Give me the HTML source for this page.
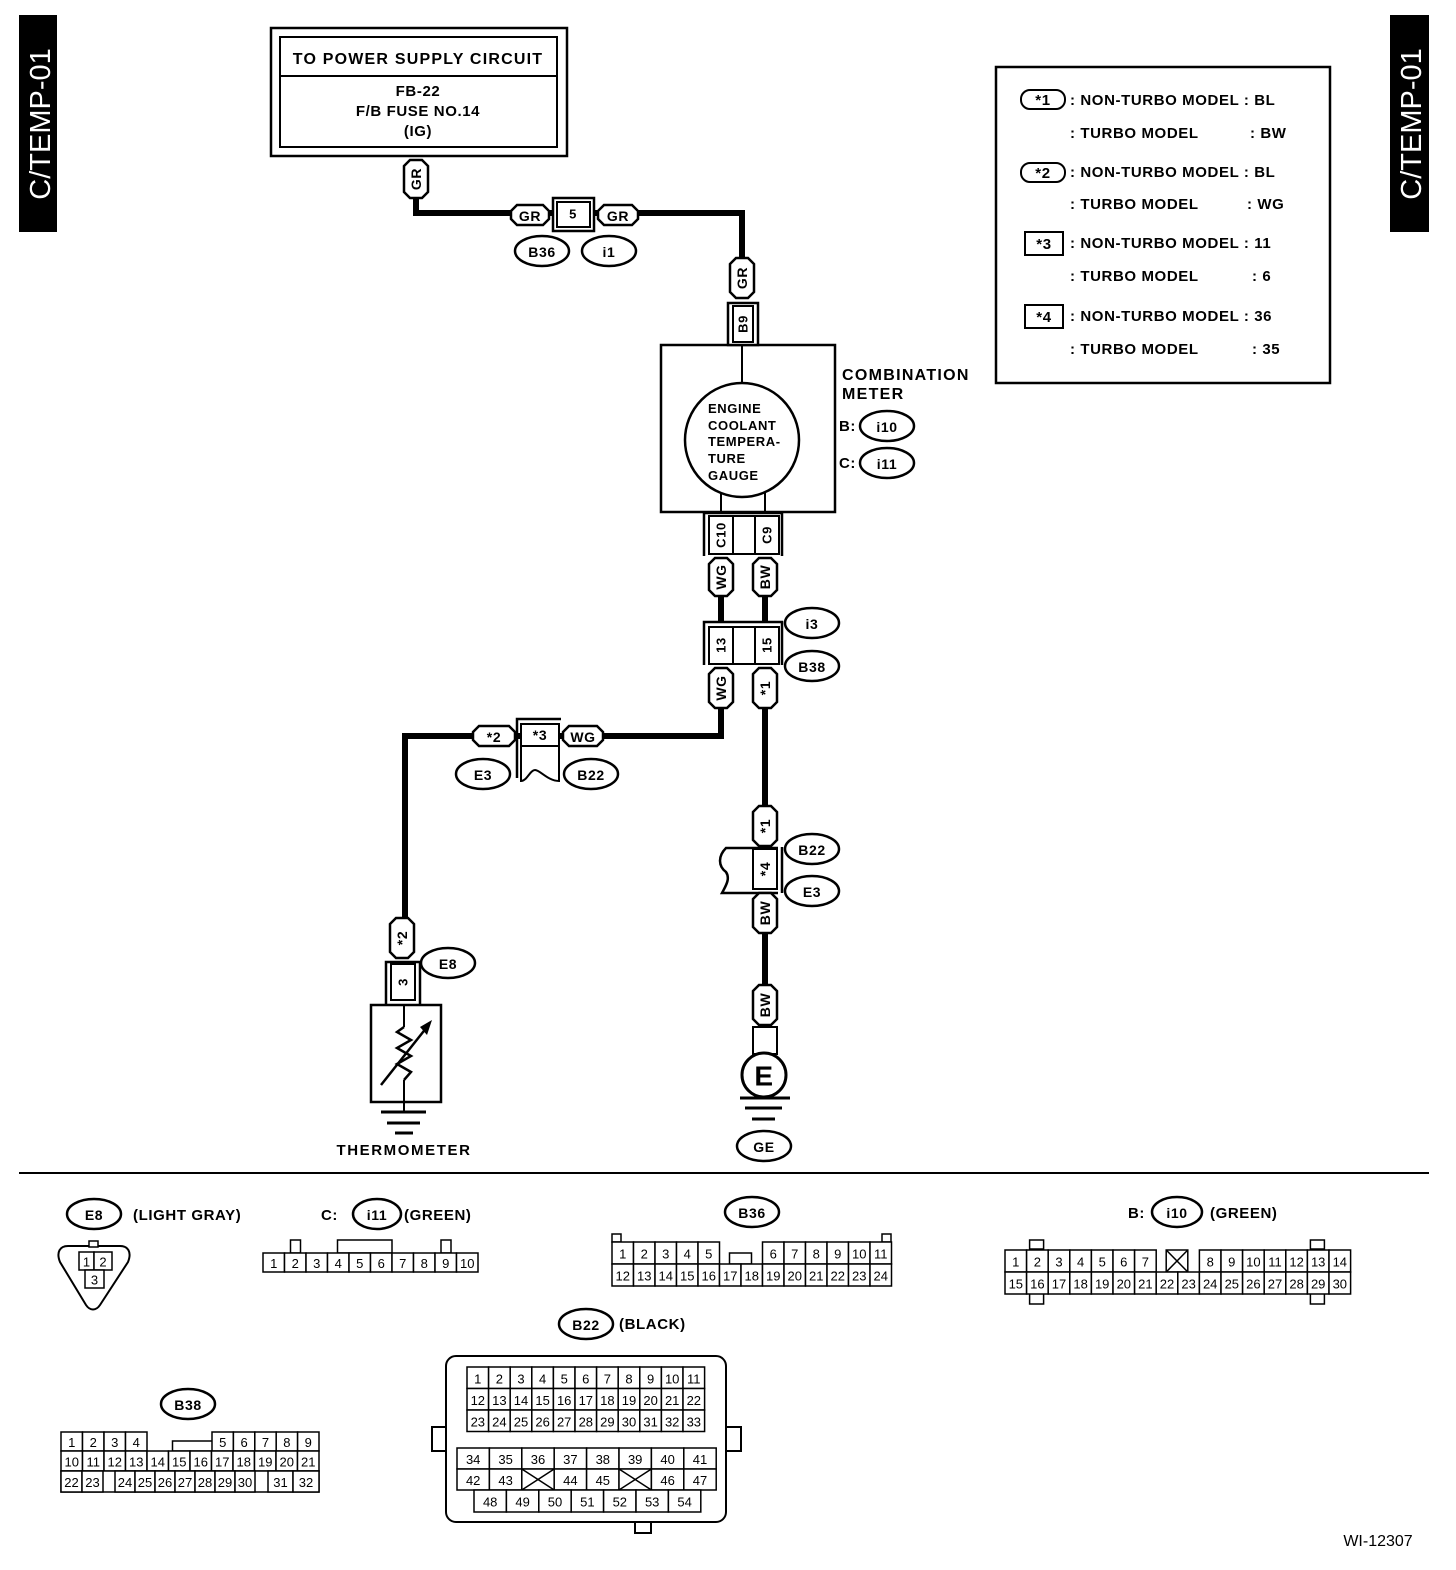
<!DOCTYPE html>
<html><head><meta charset="utf-8"><style>
html,body{margin:0;padding:0;background:#fff;}
svg{display:block;}
text{font-family:"Liberation Sans",Arial,sans-serif;font-weight:bold;fill:#000;letter-spacing:0.6px;}
</style></head><body>
<svg id="s" width="1456" height="1570" viewBox="0 0 1456 1570" xmlns="http://www.w3.org/2000/svg">
<rect x="0" y="0" width="1456" height="1570" fill="#fff"/>
<rect x="19" y="15" width="38" height="217" fill="#000"/>
<text x="0" y="0" transform="translate(50,124) rotate(-90)" text-anchor="middle" font-size="29" style="fill:#fff;font-weight:normal;letter-spacing:0">C/TEMP-01</text>
<rect x="1390" y="15" width="39" height="217" fill="#000"/>
<text x="0" y="0" transform="translate(1421,124) rotate(-90)" text-anchor="middle" font-size="29" style="fill:#fff;font-weight:normal;letter-spacing:0">C/TEMP-01</text>

<rect x="271" y="28" width="296" height="128" fill="none" stroke="#000" stroke-width="2.5"/>
<rect x="280" y="37" width="277" height="110" fill="none" stroke="#000" stroke-width="2"/>
<line x1="280" y1="76" x2="557" y2="76" stroke="#000" stroke-width="2"/>
<text x="418" y="64" text-anchor="middle" font-size="16" style="letter-spacing:1.2px">TO POWER SUPPLY CIRCUIT</text>
<text x="418" y="96" text-anchor="middle" font-size="15">FB-22</text>
<text x="418" y="116" text-anchor="middle" font-size="15">F/B FUSE NO.14</text>
<text x="418" y="136" text-anchor="middle" font-size="15">(IG)</text>

<g stroke="#000" stroke-width="6" fill="none">
<polyline points="416,198 416,213 742,213 742,262"/>
<line x1="721" y1="596" x2="721" y2="622"/>
<line x1="765" y1="596" x2="765" y2="622"/>
<polyline points="721,706 721,736 405,736 405,920"/>
<line x1="765" y1="706" x2="765" y2="808"/>
<line x1="765" y1="932" x2="765" y2="987"/>
</g>

<rect x="996" y="67" width="334" height="316" fill="none" stroke="#000" stroke-width="2.5"/>
<g font-size="15">
<rect x="1021" y="90" width="44" height="19" rx="9" fill="#fff" stroke="#000" stroke-width="2"/><text x="1043" y="105" text-anchor="middle">*1</text>
<text x="1070" y="105">: NON-TURBO MODEL : BL</text>
<text x="1070" y="138">: TURBO MODEL</text><text x="1250" y="138">: BW</text>
<rect x="1021" y="163" width="44" height="19" rx="9" fill="#fff" stroke="#000" stroke-width="2"/><text x="1043" y="178" text-anchor="middle">*2</text>
<text x="1070" y="177">: NON-TURBO MODEL : BL</text>
<text x="1070" y="209">: TURBO MODEL</text><text x="1247" y="209">: WG</text>
<rect x="1025" y="232" width="38" height="23" fill="#fff" stroke="#000" stroke-width="2"/><text x="1044" y="249" text-anchor="middle">*3</text>
<text x="1070" y="248">: NON-TURBO MODEL : 11</text>
<text x="1070" y="281">: TURBO MODEL</text><text x="1252" y="281">: 6</text>
<rect x="1025" y="305" width="38" height="23" fill="#fff" stroke="#000" stroke-width="2"/><text x="1044" y="322" text-anchor="middle">*4</text>
<text x="1070" y="321">: NON-TURBO MODEL : 36</text>
<text x="1070" y="354">: TURBO MODEL</text><text x="1252" y="354">: 35</text>
</g>

<rect x="661" y="345" width="174" height="167" fill="#fff" stroke="#000" stroke-width="2.5"/>
<line x1="742" y1="345" x2="742" y2="383" stroke="#000" stroke-width="2"/>
<line x1="721" y1="490" x2="721" y2="512" stroke="#000" stroke-width="2"/>
<line x1="765" y1="490" x2="765" y2="512" stroke="#000" stroke-width="2"/>
<circle cx="742" cy="440" r="57" fill="#fff" stroke="#000" stroke-width="2.5"/>
<g font-size="13" style="letter-spacing:1px"><text x="708" y="413">ENGINE</text><text x="708" y="430">COOLANT</text><text x="708" y="446">TEMPERA-</text><text x="708" y="463">TURE</text><text x="708" y="480">GAUGE</text></g>
<text x="842" y="380" font-size="16" style="letter-spacing:1.3px">COMBINATION</text>
<text x="842" y="399" font-size="16" style="letter-spacing:1.3px">METER</text>
<text x="839" y="431" font-size="15">B:</text>
<text x="839" y="468" font-size="15">C:</text>

<g id="dyn"></g>

<line x1="19" y1="1173" x2="1429" y2="1173" stroke="#000" stroke-width="2"/>

<text x="404" y="1155" text-anchor="middle" font-size="15" style="letter-spacing:1.6px">THERMOMETER</text>
<text x="1378" y="1546" text-anchor="middle" font-size="16" style="font-weight:normal;letter-spacing:0">WI-12307</text>

<g font-size="15" style="letter-spacing:1.2px">
<text x="133" y="1220">(LIGHT GRAY)</text>
<text x="321" y="1220">C:</text><text x="404" y="1220">(GREEN)</text>
<text x="1128" y="1218">B:</text><text x="1210" y="1218">(GREEN)</text>
<text x="619" y="1329">(BLACK)</text>
</g>
</svg>
<script>
var NS="http://www.w3.org/2000/svg",G=document.getElementById('dyn');
function el(t,a,txt){var e=document.createElementNS(NS,t);for(var k in a)e.setAttribute(k,a[k]);if(txt!=null)e.textContent=txt;G.appendChild(e);return e;}
function rect(x,y,w,h,sw,extra){var a={x:x,y:y,width:w,height:h,fill:'#fff',stroke:'#000','stroke-width':sw||2};for(var k in extra)a[k]=extra[k];return el('rect',a);}
function line(x1,y1,x2,y2,sw){return el('line',{x1:x1,y1:y1,x2:x2,y2:y2,stroke:'#000','stroke-width':sw||2});}
function txt(x,y,s,fs,rot,extra){var a={x:x,y:y,'text-anchor':'middle','font-size':fs||14,'dominant-baseline':'central'};if(rot){a.transform='rotate(-90 '+x+' '+y+')';}for(var k in extra)a[k]=extra[k];return el('text',a,s);}
function oval(cx,cy,s,rx,ry){el('ellipse',{cx:cx,cy:cy,rx:rx||27,ry:ry||15,fill:'#fff',stroke:'#000','stroke-width':2.5});txt(cx,cy+1,s,14);}
function vtag(cx,y1,y2,s){var w=24,c=6;var x=cx-w/2;el('polygon',{points:[x+c,y1,x+w-c,y1,x+w,y1+c,x+w,y2-c,x+w-c,y2,x+c,y2,x,y2-c,x,y1+c].join(' '),fill:'#fff',stroke:'#000','stroke-width':2.5});txt(cx,(y1+y2)/2,s,14,true);}
function htag(x1,x2,cy,s){var h=20,c=6;var y=cy-h/2;el('polygon',{points:[x1+c,y,x2-c,y,x2,y+c,x2,y+h-c,x2-c,y+h,x1+c,y+h,x1,y+h-c,x1,y+c].join(' '),fill:'#fff',stroke:'#000','stroke-width':2.5});txt((x1+x2)/2,cy+1,s,14);}

vtag(416,160,198,'GR');
htag(511,549,215,'GR');
rect(553,198,41,33,2.5);rect(557,202,33,25,2);txt(573,214,'5',13);
htag(598,638,215,'GR');
oval(542,251,'B36');oval(609,251,'i1');
vtag(742,258,298,'GR');
rect(728,303,30,42,2.5);rect(733,306,20,36,2);txt(743,324,'B9',13,true);
oval(887,426,'i10');oval(887,463,'i11');
el('polyline',{points:'704,556 704,513 782,513 782,556',fill:'none',stroke:'#000','stroke-width':2.5});
rect(709,516,70,38,2);line(733,516,733,554);line(755,516,755,554);
txt(721,535,'C10',13,true);txt(767,535,'C9',13,true);
vtag(721,558,596,'WG');vtag(765,558,596,'BW');
el('polyline',{points:'704,665 704,622 782,622 782,665',fill:'none',stroke:'#000','stroke-width':2.5});
rect(709,627,70,37,2);line(733,627,733,664);line(755,627,755,664);
txt(721,645,'13',13,true);txt(767,645,'15',13,true);
oval(812,623,'i3');oval(812,666,'B38');
vtag(721,668,708,'WG');vtag(765,668,708,'*1');
htag(473,515,736,'*2');
el('polyline',{points:'517,778 517,719 561,719',fill:'none',stroke:'#000','stroke-width':2.5});
el('path',{d:'M521,724 L559,724 L559,781 C548,781 540,770 535,770 C530,770 527,781 521,781 Z',fill:'#fff',stroke:'#000','stroke-width':2});
line(521,746,559,746);txt(540,735,'*3',14);
htag(563,603,736,'WG');
oval(483,774,'E3');oval(591,774,'B22');
vtag(765,806,846,'*1');
el('path',{d:'M778,848 L726,848 C718,856 718,866 726,872 C730,878 727,884 722,893 L778,893',fill:'none',stroke:'#000','stroke-width':2.5});
rect(753,849,24,40,2);txt(765,869,'*4',14,true);
el('polyline',{points:'782,847 782,893',fill:'none',stroke:'#000','stroke-width':2.5});
oval(812,849,'B22');oval(812,891,'E3');
vtag(765,893,933,'BW');vtag(765,985,1025,'BW');
rect(753,1027,24,27,2);
el('circle',{cx:764,cy:1075,r:22,fill:'#fff',stroke:'#000','stroke-width':3});
txt(764,1076,'E',28);
line(740,1098,790,1098,3);line(745,1108,782,1108,3);line(752,1119,775,1119,3);
oval(764,1146,'GE');
vtag(402,918,958,'*2');oval(448,963,'E8');
el('polyline',{points:'386,1004 386,962 420,962 420,1004',fill:'none',stroke:'#000','stroke-width':2.5});
rect(391,964,24,36,2);txt(403,982,'3',13,true);
rect(371,1005,70,97,2.5);
line(404,1005,404,1027);line(404,1080,404,1102);
el('polyline',{points:'404,1027 397,1032 411,1040 397,1048 411,1056 397,1064 411,1072 404,1080',fill:'none',stroke:'#000','stroke-width':2.5});
line(381,1085,427,1027,2.5);el('polygon',{points:'432,1020 420,1027 427,1035',fill:'#000'});
line(404,1102,404,1112);line(381,1112,426,1112,3);line(387,1123,420,1123,3);line(395,1133,413,1133,3);

function cell(x,y,w,h,s,fs){rect(x,y,w,h,1.5);if(s!=null)txt(x+w/2,y+h/2+1,s,fs||13,false,{style:'font-weight:normal;letter-spacing:0'});}
function xcell(x,y,w,h){rect(x,y,w,h,1.5);line(x,y,x+w,y+h,1.5);line(x+w,y,x,y+h,1.5);}
oval(94,1214,'E8');
el('path',{d:'M68,1246 L120,1246 C128,1246 132,1252 128,1262 L100,1305 C96,1311 90,1311 86,1305 L60,1262 C56,1252 60,1246 68,1246 Z',fill:'#fff',stroke:'#000','stroke-width':2});
rect(89,1241,9,6,1.5);
cell(79,1252,15,18,'1');cell(94,1252,18,18,'2');cell(85,1270,19,18,'3');
oval(377,1214,'i11',24);
var w=21.5,x0=263;
rect(x0+w+6,1240,10,13,1.5);rect(x0+3*w+10,1240,3*w+10-20,13,1.5);rect(x0+8*w+6,1240,10,13,1.5);
for(var i=0;i<10;i++)cell(x0+i*w,1253,w,19,String(i+1));
oval(752,1212,'B36');
w=21.5;x0=612;
rect(x0,1234,9,8,1.5);rect(x0+12*w+12,1234,9,8,1.5);
for(var i=0;i<5;i++)cell(x0+i*w,1242,w,22,String(i+1));
rect(x0+5*w+10,1253,22,11,1.5);
for(var i=0;i<6;i++)cell(x0+(7+i)*w,1242,w,22,String(6+i));
for(var i=0;i<13;i++)cell(x0+i*w,1264,w,22,String(12+i));
oval(1177,1212,'i10',25);
w=21.6;x0=1005;
rect(x0+w+3,1240,14,9,1.5);rect(x0+14*w+3,1240,14,9,1.5);
rect(x0+w+3,1293,14,11,1.5);rect(x0+14*w+3,1293,14,11,1.5);
for(var i=0;i<7;i++)cell(x0+i*w,1250,w,22,String(i+1));
xcell(x0+7*w+10,1250,w,22);
for(var i=0;i<7;i++)cell(x0+(9+i)*w,1250,w,22,String(8+i));
for(var i=0;i<16;i++)cell(x0+i*w,1272,w,22,String(15+i));
oval(188,1404,'B38');
w=21.5;x0=61;
for(var i=0;i<4;i++)cell(x0+i*w,1432,w,19,String(i+1));
rect(x0+5*w+4,1441,44,10,1.5);
for(var i=0;i<5;i++)cell(212+i*21.4,1432,21.4,19,String(5+i));
for(var i=0;i<12;i++)cell(x0+i*w,1451,w,20,String(10+i));
rect(61,1471,258,21,1.5);
cell(61,1471,21,21,'22');cell(82,1471,21,21,'23');
for(var i=0;i<7;i++)cell(115+i*20,1471,20,21,String(24+i));
cell(268,1471,25,21,'31');cell(293,1471,26,21,'32');
oval(586,1324,'B22');
el('rect',{x:446,y:1356,width:280,height:166,rx:10,fill:'#fff',stroke:'#000','stroke-width':2});
el('polyline',{points:'446,1427 432,1427 432,1451 446,1451',fill:'none',stroke:'#000','stroke-width':2});
el('polyline',{points:'726,1427 741,1427 741,1451 726,1451',fill:'none',stroke:'#000','stroke-width':2});
el('polyline',{points:'635,1522 635,1533 651,1533 651,1522',fill:'none',stroke:'#000','stroke-width':2});
w=21.6;x0=467;
for(var r=0;r<3;r++)for(var i=0;i<11;i++)cell(x0+i*w,1367+r*21.5,w,21.5,String(1+r*11+i));
w=32.4;x0=457;
var r1=['34','35','36','37','38','39','40','41'],r2=['42','43',null,'44','45',null,'46','47'];
for(var i=0;i<8;i++)cell(x0+i*w,1448,w,21,r1[i]);
for(var i=0;i<8;i++){if(r2[i]==null)xcell(x0+i*w,1469,w,21);else cell(x0+i*w,1469,w,21,r2[i]);}
for(var i=0;i<7;i++)cell(474+i*32.4,1490,32.4,22,String(48+i));
</script>
</body></html>
